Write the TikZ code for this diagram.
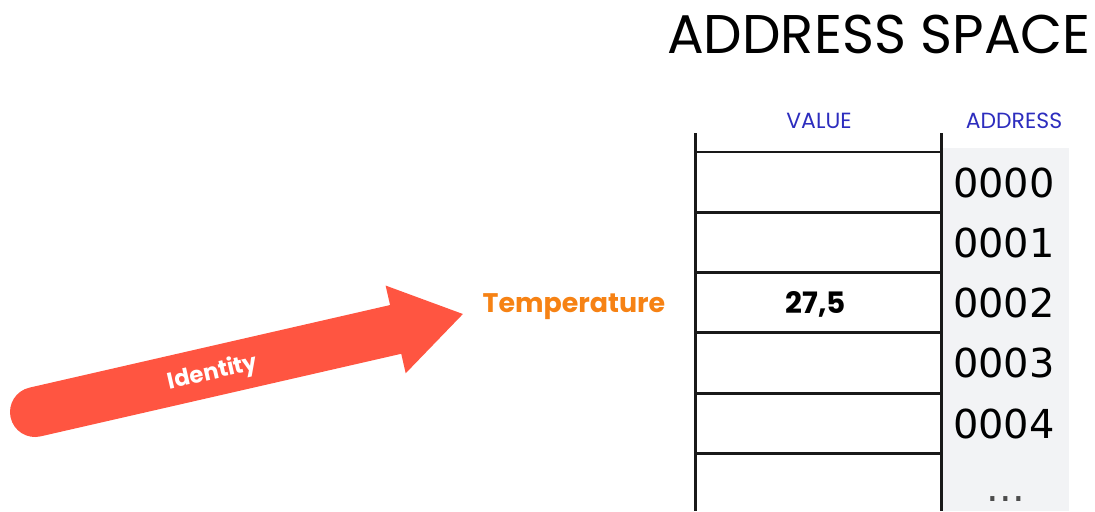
\documentclass[tikz,border=0pt]{standalone}
\usepackage{fontspec}
\setmainfont{Poppins}
\newfontfamily\addrfont{DejaVu Sans}
\usetikzlibrary{positioning}
\definecolor{arrowred}{RGB}{255,85,65}
\definecolor{tempcolor}{RGB}{246,130,20}
\definecolor{headblue}{RGB}{45,45,190}
\definecolor{addrgray}{RGB}{242,243,245}
\tikzset{
  cellline/.style={line width=1.7pt,black!90},
  colhead/.style={text=headblue,font=\fontsize{12.5}{14}\selectfont,inner sep=0pt,anchor=base},
  addr/.style={font=\addrfont\fontsize{22.7}{26}\selectfont,inner sep=0pt,anchor=base}
}
\begin{document}
\begin{tikzpicture}[x=0.02cm,y=0.02cm]
\useasboundingbox (0,0) rectangle (1095,-511);
% address column
\fill[addrgray] (943,-148) rectangle (1069,-511);
% title
\node[inner sep=0pt,font=\fontsize{31}{34}\selectfont] (title) at (879,-34.5) {ADDRESS SPACE};
\node[colhead] (valhead) at (819,-128) {VALUE};
\node[colhead] (addrhead) at (1014,-128) {ADDRESS};
% table
\draw[cellline] (695,-133) -- (695,-511) (941,-133) -- (941,-511);
\foreach \r in {0,...,5}
  \draw[cellline] (695,-152-60.3*\r) -- (941,-152-60.3*\r);
\foreach \a [count=\r from 0] in {0000,0001,0002,0003,0004}
  \node[addr] (a\a) at (1004,-197-60.3*\r) {\a};
\node[addr,text=black!70] (adots) at (1006,-501) {...};
\node[inner sep=0pt,anchor=base,font=\bfseries\fontsize{16.8}{18}\selectfont] (val) at (816,-313) {27,5};
\node[inner sep=0pt,anchor=base,text=tempcolor,font=\bfseries\fontsize{15.3}{17}\selectfont] (temp) at (574,-312) {Temperature};
% identity arrow
\begin{scope}[shift={(35,-412)},rotate=12.9]
\fill[arrowred] (0,25) -- (370,25) -- (370,45) -- (439,0) -- (370,-45) -- (370,-25) -- (0,-25) arc (270:90:25) -- cycle;
\node[text=white,rotate=12.9,font=\bfseries\fontsize{13}{15}\selectfont] (ident) at (182,-2) {Identity};
\end{scope}
\end{tikzpicture}
\end{document}
